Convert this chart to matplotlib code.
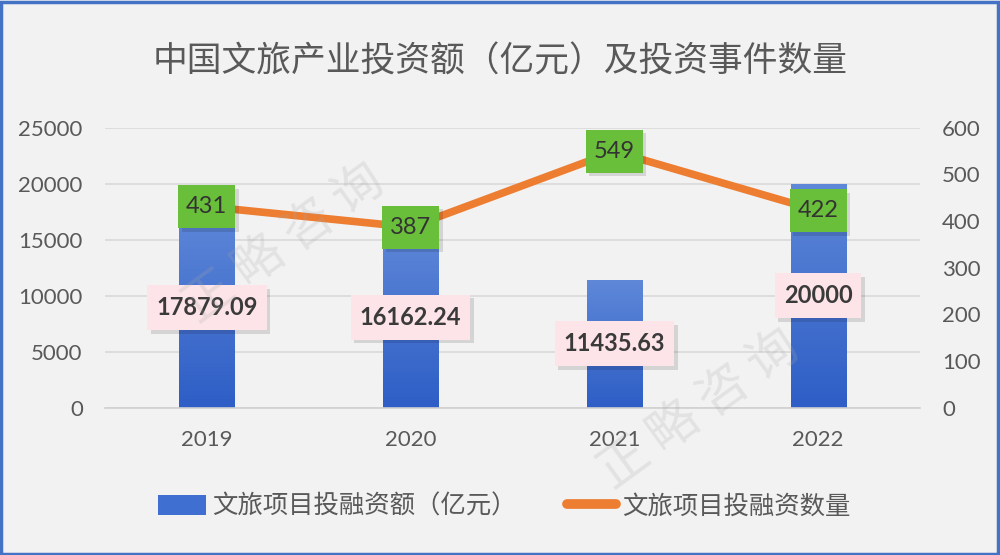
import matplotlib
matplotlib.use("Agg")
import matplotlib.pyplot as plt
import matplotlib.transforms as mtransforms
import numpy as np
from matplotlib.lines import Line2D
from matplotlib.patches import Patch, Rectangle
from matplotlib.colors import LinearSegmentedColormap

plt.rcParams['font.family'] = ['Noto Sans CJK SC', 'DejaVu Sans']

years = ['2019', '2020', '2021', '2022']
amount = [17879.09, 16162.24, 11435.63, 20000]
amount_labels = ['17879.09', '16162.24', '11435.63', '20000']
count = [431, 387, 549, 422]
left_ticks = [0, 5000, 10000, 15000, 20000, 25000]
right_ticks = [0, 100, 200, 300, 400, 500, 600]
title = '中国文旅产业投资额（亿元）及投资事件数量'
legend_bar = '文旅项目投融资额（亿元）'
legend_line = '文旅项目投融资数量'

bg = '#f2f2f2'
txt = '#595959'

fig = plt.figure(figsize=(10, 5.55), dpi=100, facecolor=bg)
fig.patches.append(Rectangle((0.001, 0.002), 0.997, 0.995, transform=fig.transFigure,
                             fill=False, edgecolor='#4472c4', linewidth=2.5))

ax = fig.add_axes([0.105, 0.265, 0.815, 0.505])
ax.set_facecolor(bg)
x = np.arange(len(years))
w = 0.27
bars = ax.bar(x, amount, width=w, color='#4472c4', zorder=2)
ax.set_yticks(left_ticks)
ax.set_yticklabels([str(t) for t in left_ticks])
ax.set_xticks(x)
ax.set_xticklabels(years)
ax.grid(axis='y', color='#d9d9d9', linewidth=1.2, zorder=0)
for s in ['top', 'right', 'left']:
    ax.spines[s].set_visible(False)
ax.spines['bottom'].set_color('#d0d0d0')
ax.spines['bottom'].set_linewidth(1.2)
ax.tick_params(axis='both', length=0, labelsize=16, labelcolor=txt)
ax.tick_params(axis='y', pad=16)
ax.tick_params(axis='x', pad=16)
for lab in ax.get_yticklabels() + ax.get_xticklabels():
    lab.set_family(['Lato', 'DejaVu Sans'])

grad = np.linspace(0, 1, 256).reshape(-1, 1)
cmap = LinearSegmentedColormap.from_list('b', ['#2e5ec6', '#5f88d8'])
for b in bars:
    bx, by, bw, bh = b.get_x(), b.get_y(), b.get_width(), b.get_height()
    im = ax.imshow(grad, extent=[bx, bx + bw, by, by + bh], origin='lower', aspect='auto',
                   cmap=cmap, zorder=2.1)
    im.set_clip_path(b)
ax.set_xlim(-0.5, 3.5)
ax.set_ylim(0, 25000)

ax2 = ax.twinx()
ax2.set_ylim(0, 600)
ax2.set_yticks(right_ticks)
ax2.set_yticklabels([str(t) for t in right_ticks])
for s in ['top', 'right', 'left', 'bottom']:
    ax2.spines[s].set_visible(False)
ax2.tick_params(axis='y', length=0, labelsize=16, labelcolor=txt, pad=16)
for lab in ax2.get_yticklabels():
    lab.set_family(['Lato', 'DejaVu Sans'])
ax2.plot(x, count, color='#ed7d31', linewidth=5.5, solid_capstyle='round', zorder=3)
ax2.set_xlim(-0.5, 3.5)

fig.canvas.draw()
renderer = fig.canvas.get_renderer()


def label_box(axis, xc, yc, text, padx, hpx, minw, fc, tc, bold, z):
    t = axis.text(xc, yc, text, ha='center', va='center', fontsize=17,
                  fontweight='bold' if bold else 'normal', color=tc,
                  family=['Lato', 'DejaVu Sans'], zorder=z)
    tw = t.get_window_extent(renderer).width
    wpx = max(tw + 2 * padx, minw)
    disp = axis.transData.transform((xc, yc))
    inv = axis.transData.inverted()
    (x0, y0) = inv.transform((disp[0] - wpx / 2, disp[1] - hpx / 2))
    (x1, y1) = inv.transform((disp[0] + wpx / 2, disp[1] + hpx / 2))
    sh = mtransforms.offset_copy(axis.transData, fig=fig, x=2.5, y=-2.5, units='points')
    axis.add_patch(Rectangle((x0, y0), x1 - x0, y1 - y0, facecolor='#000000', alpha=0.12,
                             edgecolor='none', transform=sh, zorder=z - 0.2, clip_on=False))
    axis.add_patch(Rectangle((x0, y0), x1 - x0, y1 - y0, facecolor=fc, edgecolor='none',
                             zorder=z - 0.1, clip_on=False))


for xi, v, lab in zip(x, amount, amount_labels):
    yc = ax2.transData.inverted().transform(ax.transData.transform((xi, v / 2)))[1]
    label_box(ax2, xi, yc, lab, 9, 45, 0, '#fde4e8', '#3a3a3a', True, 8)
for xi, v in zip(x, count):
    label_box(ax2, xi, v, str(v), 8, 43, 53, '#6abf3a', '#333333', False, 9)

# watermark
fig.text(0.285, 0.56, '正 略 咨 询', fontsize=36, color='#a8a8a8', alpha=0.22, rotation=36,
         ha='center', va='center')
fig.text(0.70, 0.26, '正 略 咨 询', fontsize=36, color='#a8a8a8', alpha=0.22, rotation=36,
         ha='center', va='center')

fig.text(0.5, 0.888, title, ha='center', va='center', fontsize=25, color=txt)

handles = [Patch(facecolor='#3f6fd0', edgecolor='none'),
           Line2D([0], [0], color='#ed7d31', linewidth=7, solid_capstyle='round')]
fig.legend(handles, [legend_bar, legend_line], loc='center', bbox_to_anchor=(0.504, 0.087),
           ncol=2, frameon=False, fontsize=18.3, labelcolor=txt, handlelength=1.9,
           handleheight=0.85, handletextpad=0.25, columnspacing=2.0)

fig.savefig('out.png', dpi=100, facecolor=bg)
